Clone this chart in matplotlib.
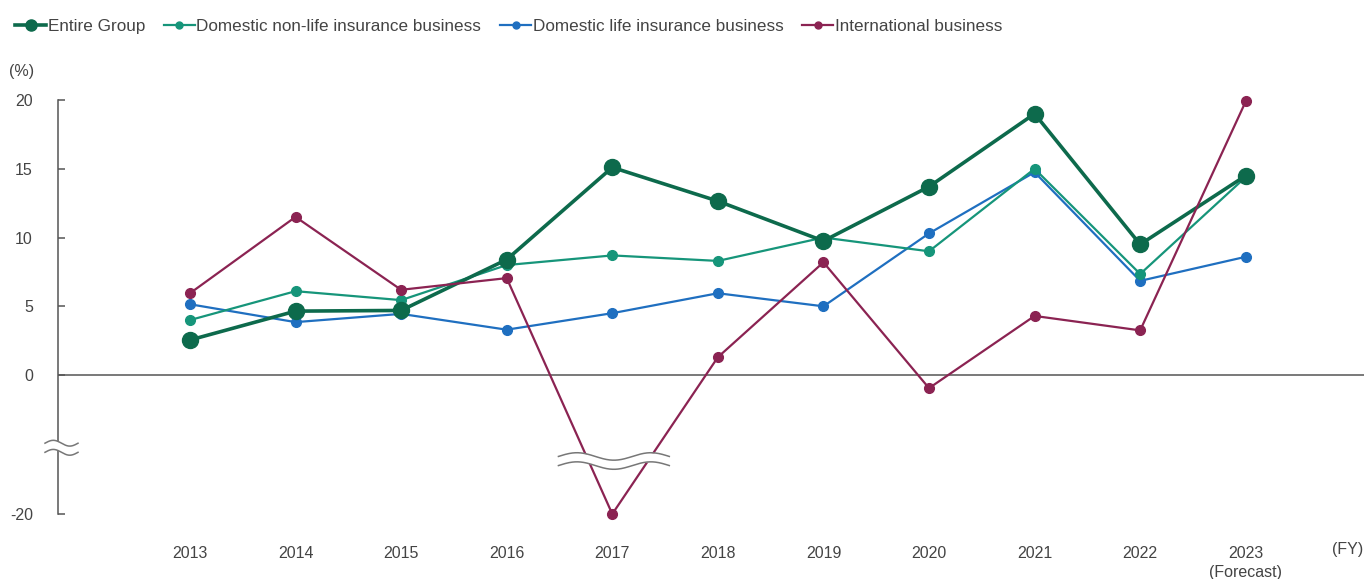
import numpy as np
import matplotlib
matplotlib.use("Agg")
import matplotlib.pyplot as plt
from matplotlib.lines import Line2D

plt.rcParams['font.family'] = ['Liberation Sans', 'DejaVu Sans']

years = ["2013", "2014", "2015", "2016", "2017", "2018", "2019", "2020", "2021", "2022", "2023\n(Forecast)"]
entire_group = [2.55, 4.65, 4.7, 8.4, 15.1, 12.65, 9.75, 13.7, 19.0, 9.5, 14.5]
domestic_nonlife = [4.0, 6.1, 5.45, 8.0, 8.7, 8.3, 10.0, 9.0, 15.0, 7.35, 14.4]
domestic_life = [5.15, 3.85, 4.45, 3.3, 4.5, 5.95, 5.0, 10.3, 14.75, 6.85, 8.6]
international = [5.95, 11.5, 6.2, 7.05, -20.0, 1.3, 8.2, -0.95, 4.3, 3.25, 19.9]
yticks = [20, 15, 10, 5, 0, -20]

C_GROUP = "#0d6a4c"
C_NONLIFE = "#16957a"
C_LIFE = "#1f6fc0"
C_INTL = "#8b2352"
GREY = "#555555"
TXT = "#444444"

# squeeze everything below -5 so that -20 fits just under the zero line
def fwd(v):
    v = np.asarray(v, dtype=float)
    return np.where(v >= -5, v, -5 + (v + 5) * 0.34)

def inv(v):
    v = np.asarray(v, dtype=float)
    return np.where(v >= -5, v, -5 + (v + 5) / 0.34)

fig = plt.figure(figsize=(13.64, 5.79), dpi=100)
ax = fig.add_axes([58 / 1364, 65 / 579, 1306 / 1364, 414 / 579])
ax.set_yscale("function", functions=(fwd, inv))

x = np.arange(len(years))
ax.plot(x, domestic_life, color=C_LIFE, lw=1.6, marker="o", ms=7, clip_on=False, zorder=3)
ax.plot(x, domestic_nonlife, color=C_NONLIFE, lw=1.6, marker="o", ms=7, clip_on=False, zorder=4)
ax.plot(x, entire_group, color=C_GROUP, lw=2.6, marker="o", ms=11.5, clip_on=False, zorder=5)
ax.plot(x, international, color=C_INTL, lw=1.6, marker="o", ms=7, clip_on=False, zorder=6)

ax.axhline(0, color=GREY, lw=1.1, zorder=2)

ax.set_xlim(-1.25, 11.12)
ax.set_ylim(-20, 20)
ax.set_yticks(yticks)
ax.set_yticklabels([str(t) for t in yticks])
ax.set_xticks(x)
ax.set_xticklabels(years, linespacing=1.35)
ax.tick_params(axis="y", direction="in", length=5, width=1.1, color=GREY,
               labelsize=11.5, labelcolor=TXT, pad=18)
ax.tick_params(axis="x", length=0, labelsize=11.5, labelcolor=TXT, pad=23)
for s in ["top", "right", "bottom"]:
    ax.spines[s].set_visible(False)
ax.spines["left"].set_color(GREY)
ax.spines["left"].set_linewidth(1.1)

ax.text(-0.028, 1.05, "(%)", transform=ax.transAxes, fontsize=11.5, color=TXT, ha="center", va="bottom")
ax.text(1.0 - 16 / 1306, -0.0867, "(FY)", transform=ax.transAxes, fontsize=11.5, color=TXT,
        ha="center", va="center")

# wavy break symbols: one on the y axis, one across the 2017 drop
def wave_break(x0, x1, yc, trans, npts=200, periods=1.5, amp=0.008, gap=0.02):
    t = np.linspace(0, 1, npts)
    xs = x0 + (x1 - x0) * t
    w = amp * np.sin(2 * np.pi * periods * t)
    top = yc + gap / 2 + w
    bot = yc - gap / 2 + w
    ax.fill_between(xs, bot, top, color="white", transform=trans, zorder=7, clip_on=False, lw=0)
    ax.plot(xs, top, color="#777777", lw=1.1, transform=trans, zorder=8, clip_on=False)
    ax.plot(xs, bot, color="#777777", lw=1.1, transform=trans, zorder=8, clip_on=False)

wave_break(-13 / 1306, 20 / 1306, 0.16, ax.transAxes, periods=1.0, amp=0.007, gap=0.022)
wave_break(4 - 0.51, 4 + 0.54, 0.128, ax.get_xaxis_transform(), periods=1.5, amp=0.009, gap=0.022)

handles = [
    Line2D([], [], color=C_GROUP, lw=2.6, marker="o", ms=8),
    Line2D([], [], color=C_NONLIFE, lw=1.6, marker="o", ms=5),
    Line2D([], [], color=C_LIFE, lw=1.6, marker="o", ms=5),
    Line2D([], [], color=C_INTL, lw=1.6, marker="o", ms=5),
]
labels = ["Entire Group", "Domestic non-life insurance business",
          "Domestic life insurance business", "International business"]
leg = fig.legend(handles, labels, loc="upper left", bbox_to_anchor=(0.0, 0.994), ncol=4,
                 frameon=False, fontsize=12.3, handlelength=1.8, handletextpad=0.1,
                 columnspacing=1.1, labelcolor=TXT)

fig.savefig("out.png", dpi=100)
